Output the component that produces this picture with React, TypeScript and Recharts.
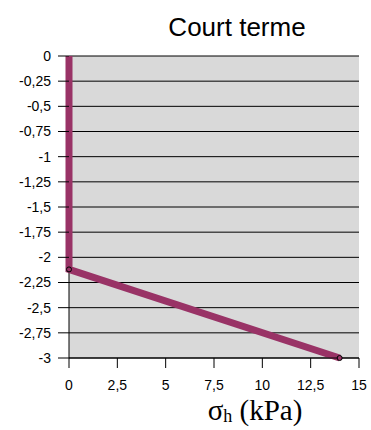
import { LineChart, Line, XAxis, YAxis, CartesianGrid, ReferenceLine } from "recharts";

// profile points: sigma_h (kPa) vs depth
const sigmaH = [0, 0, 14];
const depth = [0, -2.12, -3];

const yTicks = [0, -0.25, -0.5, -0.75, -1, -1.25, -1.5, -1.75, -2, -2.25, -2.5, -2.75, -3];
const xTicks = [0, 2.5, 5, 7.5, 10, 12.5, 15];

const data = sigmaH.map((x, i) => ({ x, y: depth[i] }));

const fmt = (v: number) => String(v).replace(".", ",");

const PLUM = "#993366";
const FONT = "Liberation Sans, Arial, sans-serif";

const Marker = (props: any) => {
  const { cx, cy, index } = props;
  if (index === 0) return <g key={index} />;
  return (
    <circle key={index} cx={cx} cy={cy} r={2.5} fill={PLUM} stroke="#000" strokeWidth={1} />
  );
};

export default function App() {
  return (
    <div style={{ position: "absolute", left: 0, top: 0, width: 371, height: 430, background: "#fff" }}>
      <LineChart
        width={371}
        height={430}
        data={data}
        margin={{ top: 56, right: 12, bottom: 42, left: 0 }}
      >
        <CartesianGrid
          vertical={false}
          horizontal
          stroke="#000"
          strokeWidth={1}
          fill="#d9d9d9"
          fillOpacity={1}
        />
        <XAxis
          type="number"
          dataKey="x"
          domain={[0, 15]}
          ticks={xTicks}
          tickFormatter={fmt}
          height={30}
          tickSize={10}
          tickMargin={12}
          stroke="#000"
          tick={{ fill: "#000", fontSize: 14, fontFamily: FONT }}
          interval={0}
        />
        <YAxis
          type="number"
          dataKey="y"
          domain={[-3, 0]}
          ticks={yTicks}
          tickFormatter={fmt}
          width={69}
          tickSize={11}
          tickMargin={7}
          axisLine={false}
          stroke="#000"
          tick={{ fill: "#000", fontSize: 14, fontFamily: FONT }}
          interval={0}
        />
        <ReferenceLine x={0} stroke="#000" strokeWidth={1} />
        <Line
          type="linear"
          dataKey="y"
          stroke={PLUM}
          strokeWidth={7}
          dot={Marker}
          activeDot={false}
          isAnimationActive={false}
        />
      </LineChart>
      <svg
        width={371}
        height={430}
        style={{ position: "absolute", left: 0, top: 0, pointerEvents: "none" }}
      >
        <text x={237} y={36} textAnchor="middle" fontSize={26} fontFamily={FONT} fill="#000">
          Court terme
        </text>
        <text x={255} y={420} textAnchor="middle" fontSize={29} fontFamily="Liberation Serif, Times New Roman, serif" fill="#000">
          σ<tspan fontSize={18} dy={2}>h</tspan>
          <tspan dy={-2}> (kPa)</tspan>
        </text>
      </svg>
    </div>
  );
}
